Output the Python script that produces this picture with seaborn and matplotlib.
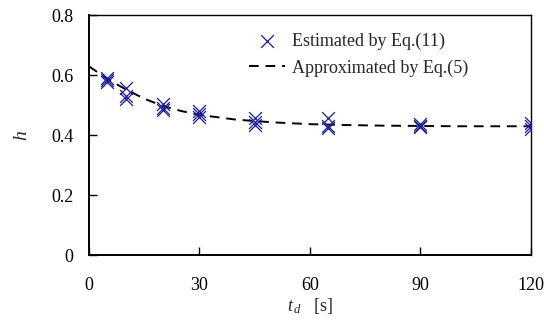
import matplotlib
matplotlib.use("Agg")
import matplotlib.pyplot as plt
import seaborn as sns
import pandas as pd

# Estimated points (several per time)
est_t = [5, 5, 5, 10, 10, 10, 20, 20, 20, 30, 30, 30, 45, 45, 45, 65, 65, 65, 90, 90, 90, 120, 120, 120]
est_h = [0.590, 0.583, 0.578, 0.558, 0.532, 0.520, 0.505, 0.492, 0.483, 0.480, 0.470, 0.462,
         0.456, 0.445, 0.435, 0.456, 0.430, 0.423, 0.437, 0.431, 0.427, 0.440, 0.430, 0.420]

# Approximation curve
fit_t = [0, 5, 10, 15, 20, 25, 30, 40, 50, 60, 70, 80, 90, 100, 110, 120]
fit_h = [0.630, 0.588, 0.553, 0.522, 0.498, 0.481, 0.468, 0.452, 0.443, 0.437, 0.434, 0.432, 0.431, 0.430, 0.430, 0.430]

x_ticks = [0, 30, 60, 90, 120]
y_ticks = [0, 0.2, 0.4, 0.6, 0.8]
y_tick_labels = ["0", "0.2", "0.4", "0.6", "0.8"]

sns.set_style("white")
plt.rcParams["font.family"] = ["Liberation Serif", "DejaVu Serif"]
plt.rcParams["mathtext.fontset"] = "custom"
plt.rcParams["mathtext.it"] = "Liberation Serif:italic"
plt.rcParams["mathtext.rm"] = "Liberation Serif"

est_df = pd.DataFrame({"t": est_t, "h": est_h})
fit_df = pd.DataFrame({"t": fit_t, "h": fit_h})

fig = plt.figure(figsize=(5.44, 3.22), dpi=100)
ax = fig.add_axes([0.1636, 0.208, 0.8124, 0.744])

sns.scatterplot(data=est_df, x="t", y="h", ax=ax, marker="x", s=85, color="#1c1c96",
                linewidth=0.9, label="Estimated by Eq.(11)", zorder=3)
sns.lineplot(data=fit_df, x="t", y="h", ax=ax, color="black", linewidth=1.4,
             label="Approximated by Eq.(5)", zorder=2)
ax.lines[-1].set_dashes((5, 3.5))

ax.set_xlim(0, 120)
ax.set_ylim(0, 0.8)
ax.set_xticks(x_ticks)
ax.set_xticklabels([str(v) for v in x_ticks])
ax.set_yticks(y_ticks)
ax.set_yticklabels(y_tick_labels)

for s in ax.spines.values():
    s.set_color("black")
    s.set_linewidth(1.0)
ax.spines["bottom"].set_linewidth(1.4)
ax.spines["left"].set_linewidth(1.4)

ax.tick_params(axis="x", direction="in", length=6, width=1, bottom=True, top=False,
               labelsize=13, pad=16, colors="black")
ax.tick_params(axis="y", direction="in", length=6, width=1, left=True, right=False,
               labelsize=13, pad=11, colors="black")

ax.set_xlabel(r"$t_{\,d}$   [s]", fontsize=13, labelpad=1)
ax.set_ylabel(r"$h$", fontsize=14, labelpad=15)

leg = ax.legend(loc="upper left", bbox_to_anchor=(0.345, 0.96), frameon=False,
                fontsize=13, handlelength=2.0, handletextpad=0.4, labelspacing=0.55,
                borderaxespad=0)

fig.savefig("out.png", dpi=100)
